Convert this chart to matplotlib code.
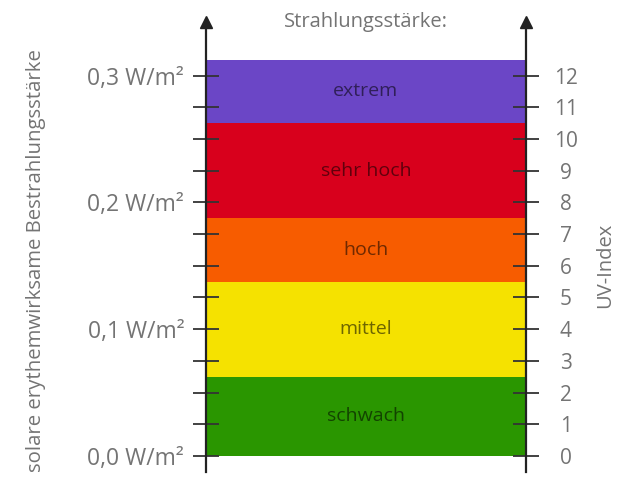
import matplotlib
matplotlib.use("Agg")
import matplotlib.pyplot as plt

plt.rcParams['font.family'] = ['Open Sans', 'DejaVu Sans']

# Data
categories = ["schwach", "mittel", "hoch", "sehr hoch", "extrem"]
band_lower = [0, 2.5, 5.5, 7.5, 10.5]
band_upper = [2.5, 5.5, 7.5, 10.5, 12.5]
band_colors = ["#2a9600", "#f5e200", "#f75c00", "#d8001c", "#6b46c6"]
uv_ticks = list(range(0, 13))
irr_major = [0.0, 0.1, 0.2, 0.3]
irr_major_labels = ["0,0 W/m²", "0,1 W/m²", "0,2 W/m²", "0,3 W/m²"]
irr_minor = [0.025, 0.05, 0.075, 0.125, 0.15, 0.175, 0.225, 0.25, 0.275]
W_PER_UV = 0.025

gray = "#747474"
fig = plt.figure(figsize=(6.3, 4.79), dpi=100)
ymin, ymax = -0.505, 13.69

# Left axis (irradiance)
ax = fig.add_axes([0.3265, 0.0146, 0.5085, 0.9395])
ax.set_ylim(ymin * W_PER_UV, ymax * W_PER_UV)
ax.set_xlim(0, 1)
ax.set_xticks([])
ax.set_yticks(irr_major)
ax.set_yticklabels(irr_major_labels)
ax.set_yticks(irr_minor, minor=True)
ax.tick_params(axis='y', which='both', direction='inout', length=19, width=1.3,
               color='#333333', pad=6, labelsize=16.5, labelcolor=gray)
for s in ['top', 'bottom', 'right']:
    ax.spines[s].set_visible(False)
ax.spines['left'].set_linewidth(1.6)
ax.spines['left'].set_color('#222222')
ax.set_ylabel("solare erythemwirksame Bestrahlungsstärke", fontsize=14.7, color=gray)
ax.yaxis.set_label_coords(-0.4986, 0.469)

# Right axis (UV index)
ax2 = ax.twinx()
ax2.set_ylim(ymin, ymax)
ax2.set_xlim(0, 1)
for lo, hi, c, name in zip(band_lower, band_upper, band_colors, categories):
    ax2.bar(0.5, hi - lo, bottom=lo, width=1, color=c, edgecolor='none', zorder=1)
    ax2.text(0.5, (lo + hi) / 2, name, ha='center', va='center', fontsize=14,
             color='black', alpha=0.55, zorder=3)

ax2.set_yticks(uv_ticks)
ax2.set_yticklabels([str(t) for t in uv_ticks])
ax2.tick_params(axis='y', direction='inout', length=19, width=1.3, color='#333333',
                pad=19, labelsize=15, labelcolor=gray)
for lab in ax2.get_yticklabels():
    lab.set_horizontalalignment('center')
for s in ['top', 'bottom', 'left']:
    ax2.spines[s].set_visible(False)
ax2.spines['right'].set_linewidth(1.6)
ax2.spines['right'].set_color('#222222')
ax2.set_ylabel("UV-Index", fontsize=14.5, color=gray)
ax2.yaxis.set_label_coords(1.2154, 0.46)

# draw left axis (ticks) above the colour bands
ax.set_zorder(ax2.get_zorder() + 1)
ax.patch.set_visible(False)

# arrowheads
for xa in (0, 1):
    ax.plot([xa], [1.0], marker='^', markersize=8, color='#222222',
            transform=ax.transAxes, clip_on=False, zorder=5)

fig.text(0.581, 0.954, "Strahlungsstärke:", ha='center', va='center', fontsize=14.5,
         color=gray)

fig.savefig("out.png", dpi=100)
